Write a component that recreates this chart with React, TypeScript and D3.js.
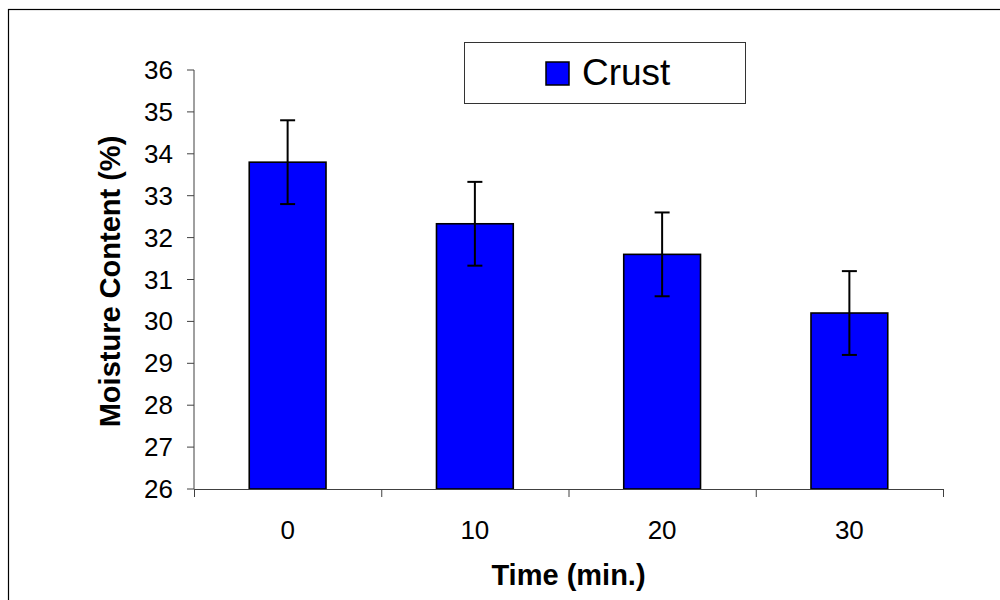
import React from 'react'
import * as d3 from 'd3'

// data
const times = ['0', '10', '20', '30']
const moisture = [33.8, 32.33, 31.6, 30.2]
const errors = [1.0, 1.0, 1.0, 1.0]
const yTicks = [26, 27, 28, 29, 30, 31, 32, 33, 34, 35, 36]
const seriesName = 'Crust'

const W = 1000
const H = 600
const FONT = '"Liberation Sans", Arial, Helvetica, sans-serif'

export default function App() {
  /* plot box */
  const left = 194
  const right = 943
  const top = 70
  const bottom = 489

  const x = d3.scaleBand<string>().domain(times).range([left, right]).padding(0)
  const y = d3.scaleLinear().domain([26, 36]).range([bottom, top])
  const barW = x.bandwidth() * 0.41
  const capW = 15
  const axisColor = '#404040'

  const bounds = [...times.map((t) => x(t) as number), right]

  return (
    <svg
      width={W}
      height={H}
      style={{ position: 'absolute', left: 0, top: 0, background: '#fff' }}
      fontFamily={FONT}
    >
      {/* outer chart border (cropped on right/bottom) */}
      <rect x={8.5} y={9.5} width={1010} height={610} fill="#fff" stroke="#000" strokeWidth={1.2} />

      {/* bars */}
      {times.map((t, i) => {
        const cx = (x(t) as number) + x.bandwidth() / 2
        return (
          <rect
            key={'b' + t}
            x={cx - barW / 2}
            y={y(moisture[i])}
            width={barW}
            height={bottom - y(moisture[i])}
            fill="#0000FF"
            stroke="#000"
            strokeWidth={1.6}
          />
        )
      })}

      {/* axes */}
      <line x1={left} x2={left} y1={top} y2={bottom} stroke={axisColor} strokeWidth={1} />
      <line x1={left} x2={right} y1={bottom + 0.5} y2={bottom + 0.5} stroke={axisColor} strokeWidth={1} />
      {yTicks.map((v) => (
        <g key={'y' + v}>
          <line x1={left - 7} x2={left} y1={y(v)} y2={y(v)} stroke={axisColor} strokeWidth={1} />
          <text x={173} y={y(v) + 9} textAnchor="end" fontSize={26} fill="#000">
            {v}
          </text>
        </g>
      ))}
      {bounds.map((b, i) => (
        <line key={'xt' + i} x1={b + 0.5} x2={b + 0.5} y1={bottom} y2={bottom + 8} stroke={axisColor} strokeWidth={1} />
      ))}
      {times.map((t) => (
        <text
          key={'xl' + t}
          x={(x(t) as number) + x.bandwidth() / 2}
          y={539}
          textAnchor="middle"
          fontSize={26}
          fill="#000"
        >
          {t}
        </text>
      ))}

      {/* error bars */}
      {times.map((t, i) => {
        const cx = (x(t) as number) + x.bandwidth() / 2
        const hi = y(moisture[i] + errors[i])
        const lo = y(moisture[i] - errors[i])
        return (
          <g key={'e' + t} stroke="#000" strokeWidth={2}>
            <line x1={cx} x2={cx} y1={hi} y2={lo} />
            <line x1={cx - capW / 2} x2={cx + capW / 2} y1={hi} y2={hi} />
            <line x1={cx - capW / 2} x2={cx + capW / 2} y1={lo} y2={lo} />
          </g>
        )
      })}

      {/* axis titles */}
      <text x={(left + right) / 2} y={585} textAnchor="middle" fontSize={29} fontWeight="bold" fill="#000">
        Time (min.)
      </text>
      <text
        transform={`translate(120,${(top + bottom) / 2 + 2}) rotate(-90)`}
        textAnchor="middle"
        fontSize={29}
        fontWeight="bold"
        fill="#000"
      >
        Moisture Content (%)
      </text>

      {/* legend */}
      <rect x={464.5} y={42.5} width={281} height={61} fill="#fff" stroke="#333" strokeWidth={1} />
      <rect x={546} y={62} width={23} height={23} fill="#0000FF" stroke="#000" strokeWidth={1.5} />
      <text x={582} y={85} fontSize={37} fill="#000">
        {seriesName}
      </text>
    </svg>
  )
}
